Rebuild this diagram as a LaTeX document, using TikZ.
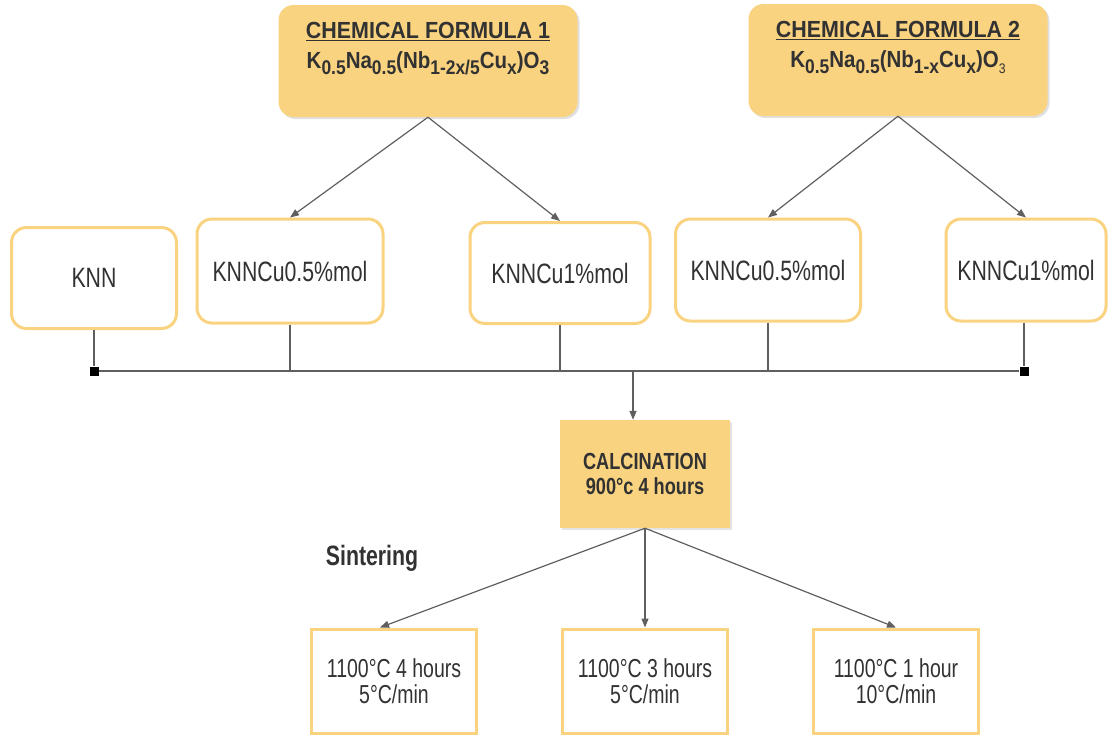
\documentclass[tikz,border=0pt]{standalone}
\usepackage{fontspec}
\setmainfont{Liberation Sans}
\usetikzlibrary{arrows.meta,shadows}
\definecolor{flowgold}{RGB}{250,211,128}
\definecolor{flowink}{RGB}{50,50,50}
\definecolor{flowline}{RGB}{95,95,95}
\newcommand{\lo}[1]{\raisebox{-0.45ex}{\scalebox{0.85}{#1}}}
\newcommand{\cond}[2][0.76]{\scalebox{#1}[1]{#2}}

\tikzset{
  formula/.style={fill=flowgold, rounded corners=15pt, minimum width=299pt, minimum height=112pt,
    inner sep=0pt, align=center, text=flowink, font=\fontsize{23.3}{30}\selectfont\bfseries,
    drop shadow={shadow xshift=2pt, shadow yshift=-2pt, fill=black!35, opacity=0.35}},
  sample/.style={draw=flowgold, line width=3pt, fill=white, rounded corners=15pt,
    inner sep=0pt, text=flowink, font=\fontsize{28}{30}\selectfont},
  calc/.style={fill=flowgold, minimum width=170pt, minimum height=108pt, inner sep=0pt,
    align=center, text=flowink, font=\fontsize{23.3}{25}\selectfont\bfseries,
    drop shadow={shadow xshift=2pt, shadow yshift=-2pt, fill=black!35, opacity=0.3}},
  sinter/.style={draw=flowgold, line width=3pt, minimum width=165pt, minimum height=104pt,
    inner sep=0pt, align=center, text=flowink, font=\fontsize{26}{26}\selectfont},
  junction/.style={fill=black, minimum size=9pt, inner sep=0pt},
  arr/.style={draw=flowline, line width=1.2pt, -{Triangle[length=9pt,width=7pt]}},
  bus/.style={draw=flowline, line width=1.2pt},
}

\begin{document}
\begin{tikzpicture}[x=1pt, y=-1pt]
  \useasboundingbox (0,0) rectangle (1110,737);

  % Define nodes
  \node[formula] (F1) at (428,61) {\cond[0.92]{\underline{CHEMICAL FORMULA 1}}\\
    \cond[0.88]{K\lo{0.5}Na\lo{0.5}(Nb\lo{1-2x/5}Cu\lo{x})O\lo{3}}\rule[-31pt]{0pt}{0pt}};
  \node[formula] (F2) at (898,60) {\cond[0.92]{\underline{CHEMICAL FORMULA 2}}\\
    \cond[0.88]{K\lo{0.5}Na\lo{0.5}(Nb\lo{1-x}Cu\lo{x})O\lo{\scalebox{0.7}{\mdseries 3}}}\rule[-31pt]{0pt}{0pt}};

  \node[sample, minimum width=165pt, minimum height=101pt] (knn) at (94,278) {\cond{KNN}};
  \node[sample, minimum width=186pt, minimum height=104pt] (cuA) at (290,271) {\cond{KNNCu0.5\%mol}};
  \node[sample, minimum width=180pt, minimum height=101pt] (cuB) at (560,273) {\cond{KNNCu1\%mol}};
  \node[sample, minimum width=185pt, minimum height=102pt] (cuC) at (768,270) {\cond{KNNCu0.5\%mol}};
  \node[sample, minimum width=160pt, minimum height=102pt] (cuD) at (1026,270) {\cond{KNNCu1\%mol}};

  \node[junction] (j1) at (94,371) {};
  \node[junction] (j2) at (1024,371) {};
  \coordinate (mid) at (633,371);

  \node[calc] (calc) at (645,474) {\cond[0.78]{CALCINATION}\\\cond[0.78]{900°c 4 hours}};
  \node[text=flowink, font=\fontsize{28}{30}\selectfont\bfseries] (sint) at (372,558) {\cond{Sintering}};

  \node[sinter] (s1) at (394,681) {\cond[0.75]{1100°C 4 hours}\\\cond[0.75]{5°C/min}};
  \node[sinter] (s2) at (645,681) {\cond[0.75]{1100°C 3 hours}\\\cond[0.75]{5°C/min}};
  \node[sinter] (s3) at (896,681) {\cond[0.75]{1100°C 1 hour}\\\cond[0.75]{10°C/min}};

  % Connect the nodes
  \draw[arr] (F1.south) -- (cuA.north);
  \draw[arr] (F1.south) -- (cuB.north);
  \draw[arr] (F2.south) -- (cuC.north);
  \draw[arr] (F2.south) -- (cuD.north);

  \draw[bus] (j1) -- (j2);
  \draw[bus] (knn) -- (j1);
  \draw[bus] (cuA) -- (cuA |- j1);
  \draw[bus] (cuB) -- (cuB |- j1);
  \draw[bus] (cuC) -- (cuC |- j1);
  \draw[bus] (cuD.south -| j2) -- (j2);
  \draw[arr] (mid) -- (mid |- calc.north);

  \draw[arr] (calc.south) -- ([xshift=-14pt]s1.north);
  \draw[arr] (calc.south) -- (s2.north);
  \draw[arr] (calc.south) -- (s3.north);
\end{tikzpicture}
\end{document}
